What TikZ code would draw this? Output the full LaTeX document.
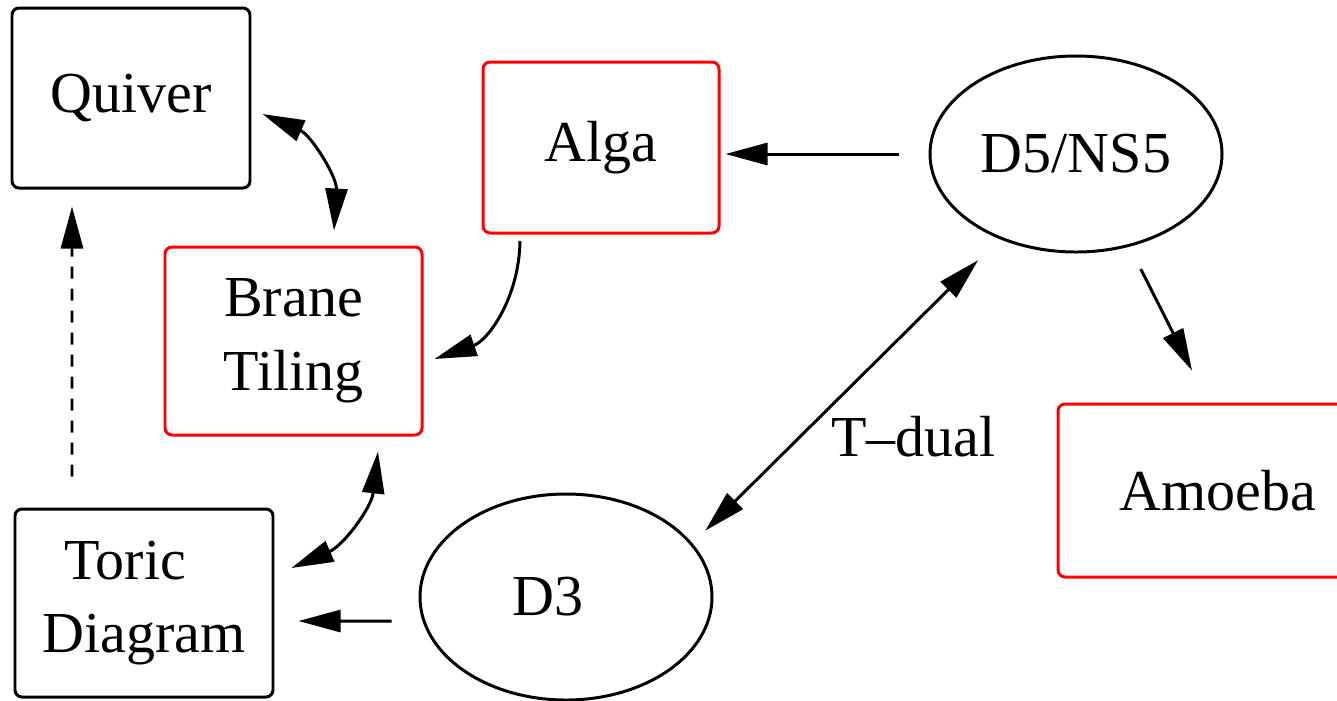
\documentclass[tikz,border=0pt]{standalone}
\usepackage{fontspec}
\setmainfont{Liberation Serif}
\usetikzlibrary{arrows.meta,shapes.geometric}

\begin{document}
\begin{tikzpicture}[>={Triangle[length=4.2mm,width=2.2mm]},
  font=\fontsize{16.5}{21}\selectfont,
  box/.style={rectangle,draw=black,line width=0.85pt,rounded corners=0.7mm,align=center},
  redbox/.style={box,draw=red},
  blob/.style={ellipse,draw=black,line width=0.85pt,inner sep=0pt}]
\useasboundingbox (0,0) rectangle (13.37,7);
\clip (0,0) rectangle (13.37,7);
% \draw[help lines] (0,0) grid (13,7);
\node (quiver) [box,minimum width=2.38cm,minimum height=1.80cm] at (1.31,6.02) {Quiver};
\node (brane) [redbox,minimum width=2.57cm,minimum height=1.88cm] at (2.935,3.59) {Brane\\Tiling};
\node (alga) [redbox,minimum width=2.36cm,minimum height=1.71cm] at (6.01,5.525) {Alga};
\node (d5) [blob,minimum width=2.92cm,minimum height=1.96cm] at (10.76,5.46) {D5/NS5};
\node (amoeba) [redbox,minimum width=3.2cm,minimum height=1.73cm] at (12.18,2.095) {Amoeba};
\node (toric) [box,align=left,minimum width=2.58cm,minimum height=1.88cm] at (1.44,0.97) {\hspace*{0.22cm}Toric\\Diagram};
\node (d3) [blob,minimum width=2.92cm,minimum height=2.06cm] at (5.66,1.03) {D3\hspace*{0.36cm}};
%
\path[<->,line width=0.85pt]([xshift=1.1mm,yshift=-1.6mm]quiver.east) edge [bend left=35] ([xshift=4.05mm,yshift=1.5mm]brane.north);
\path[->,line width=0.85pt]([xshift=-8.1mm,yshift=-0.65mm]alga.south) edge [bend left=35] ([xshift=1.1mm,yshift=-1.8mm]brane.east);
\path[->,line width=0.85pt](d5.west) edge [shorten <=3mm,shorten >=0.5mm] (d5.west -| alga.east);
\path[<->,line width=0.85pt](d3.23) edge [shorten <=1.8mm,shorten >=3mm] node[pos=0.35,right=1.8mm] {T–dual} (d5.228);
\path[->,line width=0.85pt](d5.300) edge [shorten <=2.5mm] ([xshift=-2.6mm,yshift=3.2mm]amoeba.north);
\path[<->,line width=0.85pt]([xshift=8.45mm,yshift=-1.5mm]brane.south) edge [bend left=30] ([xshift=1.7mm,yshift=3.5mm]toric.east);
\path[->,line width=0.85pt]([xshift=-2.7mm,yshift=-2.4mm]d3.west) edge ([xshift=2.4mm,yshift=-1.8mm]toric.east);
\path[->,line width=0.85pt,dash pattern=on 1.2mm off 1mm]([xshift=-7.2mm,yshift=3.1mm]toric.north) edge ([xshift=-5.9mm,yshift=-1.7mm]quiver.south);
\end{tikzpicture}
\end{document}
